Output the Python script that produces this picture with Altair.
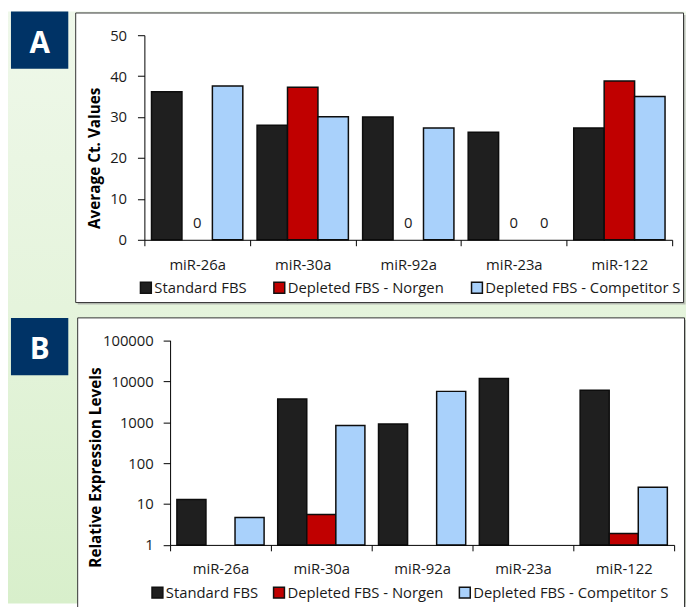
import altair as alt
import pandas as pd

categories = ["miR-26a", "miR-30a", "miR-92a", "miR-23a", "miR-122"]
series = ["Standard FBS", "Depleted FBS - Norgen", "Depleted FBS - Competitor S"]
colors = ["#1f1f1f", "#c00000", "#a9d1fb"]

# Panel A: Average Ct values (0 = not detected)
ct_standard = [36.2, 28.0, 30.0, 26.3, 27.3]
ct_norgen = [0, 37.3, 0, 0, 38.8]
ct_competitor = [37.6, 30.1, 27.3, 0, 35.0]
ct_ticks = [0, 10, 20, 30, 40, 50]

# Panel B: Relative expression levels (None = no bar)
rel_standard = [12.9, 3700, 900, 11700, 6000]
rel_norgen = [None, 5.5, None, None, 1.9]
rel_competitor = [4.7, 830, 5650, None, 25.7]
rel_ticks = [1, 10, 100, 1000, 10000, 100000]


def long_table(value_lists):
    rows = []
    for s, vals in zip(series, value_lists):
        for c, v in zip(categories, vals):
            rows.append({"miRNA": c, "Series": s, "Value": v})
    return pd.DataFrame(rows)


dfA = long_table([ct_standard, ct_norgen, ct_competitor])
barsA_df = dfA[dfA["Value"] > 0]
zerosA_df = dfA[dfA["Value"] == 0]
dfB = long_table([rel_standard, rel_norgen, rel_competitor]).dropna()

W, H = 686, 599
FONT = "Open Sans"
TXT = "#1a1a1a"

common_axis = dict(domainColor="black", tickColor="black", labelFont=FONT,
                   labelFontSize=15, labelColor=TXT, grid=False, zindex=1,
                   titleFont=FONT, titleFontSize=15.5, titleFontWeight="bold",
                   titleColor="black")

# ---------- Panel A encodings ----------
xA = alt.X("miRNA:N",
           scale=alt.Scale(domain=categories, range=[138, 672], paddingInner=0, paddingOuter=0),
           axis=alt.Axis(orient="bottom", offset=231 - H, title=None, tickBand="extent",
                         tickSize=6, labelPadding=12, labelAngle=0, **common_axis))
xoA = alt.XOffset("Series:N", scale=alt.Scale(domain=series, paddingInner=0, paddingOuter=0.234))
yA = alt.Y("Value:Q",
           scale=alt.Scale(domain=[0, 50], range=[231, 24], nice=False, zero=True),
           axis=alt.Axis(orient="left", offset=-138, values=ct_ticks, tickSize=7, labelPadding=11,
                         title="Average Ct. Values", titleX=-50, titleY=148, titleAngle=270,
                         titleAlign="center", titleBaseline="middle", **common_axis))
legend_common = dict(orient="none", direction="horizontal", title=None, symbolType="square",
                     symbolSize=121, symbolStrokeColor="#111111", symbolStrokeWidth=1.5,
                     labelFont=FONT, labelColor=TXT, labelOffset=1, labelFontSize=15,
                     labelLimit=400, zindex=1)
colorA = alt.Color("Series:N", scale=alt.Scale(domain=series, range=colors),
                   legend=alt.Legend(legendX=132, legendY=272, columnPadding=24, **legend_common))

barsA = alt.Chart(barsA_df).mark_bar(stroke="#0d0d0d", strokeWidth=1.5).encode(
    x=xA, xOffset=xoA, y=yA, y2=alt.datum(0), color=colorA)
zerosA = alt.Chart(zerosA_df).mark_text(dy=-17, font=FONT, fontSize=15, color=TXT,
                                        baseline="middle").encode(
    x=xA, xOffset=xoA, y=yA, text=alt.Text("Value:Q"))
layerA = alt.layer(barsA, zerosA)

# ---------- Panel B encodings ----------
xB = alt.X("miRNA:N",
           scale=alt.Scale(domain=categories, range=[164, 674], paddingInner=0, paddingOuter=0),
           axis=alt.Axis(orient="bottom", offset=539.7 - H, title=None, tickBand="extent",
                         tickSize=6, labelPadding=11, labelAngle=0, **common_axis))
xoB = alt.XOffset("Series:N", scale=alt.Scale(domain=series, paddingInner=0, paddingOuter=0.234))
yB = alt.Y("Value:Q",
           scale=alt.Scale(type="log", domain=[1, 100000], range=[539.7, 332.7], nice=False),
           axis=alt.Axis(orient="left", offset=-164, values=rel_ticks, format="d", tickSize=7,
                         labelPadding=10, title="Relative Expression Levels", titleX=-75,
                         titleY=461, titleAngle=270, titleAlign="center", titleBaseline="middle",
                         **common_axis))
colorB = alt.Color("Series:N", scale=alt.Scale(domain=series, range=colors),
                   legend=alt.Legend(legendX=143.7, legendY=580.5, columnPadding=12,
                                     **legend_common))
barsB = alt.Chart(dfB).mark_bar(stroke="#0d0d0d", strokeWidth=1.5).encode(
    x=xB, xOffset=xoB, y=yB, y2=alt.datum(1), color=colorB)

# ---------- Decoration ----------
one = pd.DataFrame({"k": [0]})
gradient = alt.LinearGradient(gradient="linear", x1=0, x2=0, y1=0, y2=1, stops=[
    alt.GradientStop(color="#eff8ea", offset=0),
    alt.GradientStop(color="#e5f4dc", offset=0.5),
    alt.GradientStop(color="#d8efcb", offset=1)])
bg = alt.Chart(one).mark_rect(color=gradient).encode(
    x=alt.value(0), x2=alt.value(W), y=alt.value(0), y2=alt.value(H))
shadow = "#9a9a9a"
shA = alt.Chart(one).mark_rect(fill=shadow, opacity=0.6).encode(
    x=alt.value(70.5), x2=alt.value(685.5), y=alt.value(3.5), y2=alt.value(296.5))
shB = alt.Chart(one).mark_rect(fill=shadow, opacity=0.6).encode(
    x=alt.value(72.5), x2=alt.value(686.5), y=alt.value(312), y2=alt.value(612))
boxA = alt.Chart(one).mark_rect(fill="white", stroke="#333333", strokeWidth=1).encode(
    x=alt.value(68.5), x2=alt.value(683.5), y=alt.value(1.5), y2=alt.value(294.5))
boxB = alt.Chart(one).mark_rect(fill="white", stroke="#333333", strokeWidth=1).encode(
    x=alt.value(70.5), x2=alt.value(684.5), y=alt.value(310), y2=alt.value(610))
tagA = alt.Chart(one).mark_rect(fill="#003366").encode(
    x=alt.value(3), x2=alt.value(61), y=alt.value(0), y2=alt.value(58))
tagB = alt.Chart(one).mark_rect(fill="#003366").encode(
    x=alt.value(3), x2=alt.value(61), y=alt.value(310), y2=alt.value(368))
letterA = alt.Chart(one).mark_text(text="A", font=FONT, fontSize=30, fontWeight="bold",
                                   color="white", align="center", baseline="alphabetic").encode(
    x=alt.value(32), y=alt.value(42))
letterB = alt.Chart(one).mark_text(text="B", font=FONT, fontSize=30, fontWeight="bold",
                                   color="white", align="center", baseline="alphabetic").encode(
    x=alt.value(32), y=alt.value(352))

chart = alt.layer(bg, shA, shB, boxA, boxB, tagA, tagB, letterA, letterB, layerA, barsB).resolve_scale(
    x="independent", y="independent", xOffset="independent", color="independent"
).properties(
    width=W, height=H, autosize=alt.AutoSizeParams(type="none"), padding=0, background="white"
).configure_view(strokeWidth=0)

chart.save("out.html", embed_options={"renderer": "svg", "actions": False})
